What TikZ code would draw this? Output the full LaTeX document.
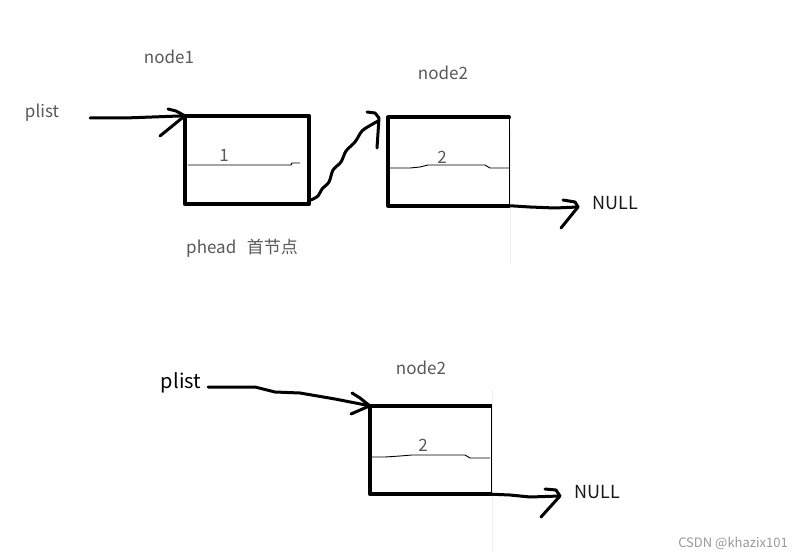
\documentclass[tikz,border=0pt]{standalone}
\usepackage{fontspec}
\setmainfont{Noto Sans CJK SC}
\begin{document}
\begin{tikzpicture}[x=1pt,y=-1pt,
  lbl/.style={text=black!65, font=\fontsize{17}{19}\selectfont, inner sep=0pt},
  blk/.style={text=black!90, font=\fontsize{18}{20}\selectfont, inner sep=0pt},
  cell/.style={inner sep=0pt, minimum width=#1},
  ink/.style={line width=3.6pt, line cap=round, line join=round},
  pen/.style={line width=3pt, line cap=round, line join=round},
  thinpen/.style={line width=1pt},
  divline/.style={line width=0.9pt, black}]
\useasboundingbox (0,0) rectangle (809,559);
\fill[white] (0,0) rectangle (809,559);

% ---------- top row ----------
\node[lbl] (n1lbl) at (169,57) {node1};
\node[lbl] (p1) at (42,113) {plist};
\node[cell=124pt, minimum height=88pt] (b1) at (247,160) {};
\draw[ink] (b1.north west) rectangle (b1.south east);
\draw[divline] (188,165) -- (291,165) -- (292,163) -- (300,163);
\node[lbl] (v1) at (224,155) {1};
\node[lbl] (ph) at (242,248) {phead\ \ \,首节点};

\coordinate (a1s) at (90,118);
\draw[pen] (a1s) -- (125,118) -- (b1.north west);
\draw[pen] (168,109) -- (176,111) -- (b1.north west) -- (160,136);

\node[lbl] (n2lbl) at (443,73) {node2};
\node[cell=121pt, minimum height=88pt] (b2) at (448.5,161.5) {};
\draw[ink] (b2.north east) -- (b2.north west) -- (b2.south west) -- (b2.south east);
\draw[thinpen] (b2.north east) -- (b2.south east);
\draw[black!6, line width=0.8pt] (510,130) -- (510,265);
\draw[divline] (390,168) -- (410,168) -- (420,167) -- (428,165) -- (485,165) -- (490,168) -- (509,168);
\node[lbl] (v2) at (442,157) {2};

\draw[pen] (b1.south east) plot[smooth, tension=0.5] coordinates {(311,200) (318,196) (322,189) (329,182) (333,170) (341,162) (346,151) (355,142) (362,131) (371,125) (378,121)};
\draw[pen] (367,112) -- (375,113) -- (379,118) -- (377,148);

\node[blk] (null1) at (615,203) {NULL};
\draw[pen] (b2.south east) -- (530,207) -- (555,208) -- (578,207);
\draw[pen] (563,200) -- (575,202) -- (578,207) -- (561,228);

% ---------- bottom row ----------
\node[blk, text=black, font=\fontsize{20}{22}\selectfont] (p2) at (181,383) {plist};
\node[lbl] (n3lbl) at (421,368) {node2};
\node[cell=121pt, minimum height=88pt] (b3) at (430.5,450) {};
\draw[ink] (b3.north east) -- (b3.north west) -- (b3.south west) -- (b3.south east);
\draw[thinpen] (b3.north east) -- (b3.south east);
\draw[black!6, line width=0.8pt] (492,390) -- (492,552);
\draw[divline] (372,457) -- (385,457) -- (400,456) -- (412,455) -- (465,455) -- (470,458) -- (490,458);
\node[lbl] (v3) at (423,445) {2};

\coordinate (a3s) at (208,387);
\draw[pen] (a3s) -- (255,387) -- (275,392) -- (300,393) -- (335,399) -- (b3.north west);
\draw[pen] (352,393) -- (360,398) -- (b3.north west) -- (351,414);

\node[blk] (null2) at (597,492) {NULL};
\draw[pen] (b3.south east) -- (510,495) -- (530,497) -- (560,496);
\draw[pen] (545,489) -- (556,490) -- (560,496) -- (541,517);

\node[text=black!40, font=\fontsize{13}{15}\selectfont, inner sep=0pt] (wm) at (733,543) {CSDN @khazix101};
\end{tikzpicture}
\end{document}
